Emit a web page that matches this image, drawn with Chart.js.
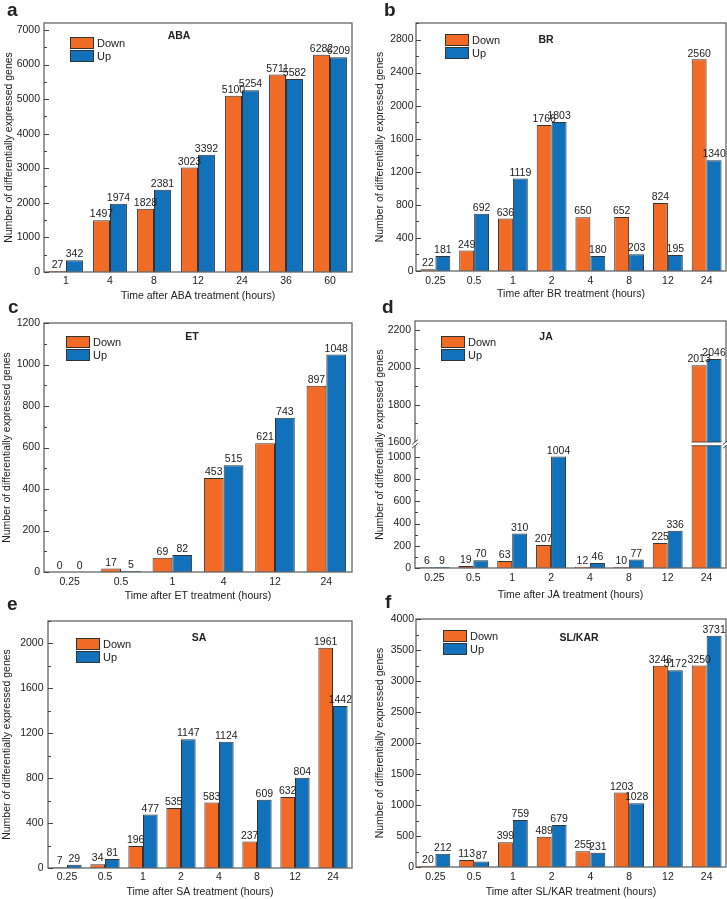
<!DOCTYPE html>
<html>
<head>
<meta charset="utf-8">
<script src="https://cdn.jsdelivr.net/npm/chart.js@4.4.0/dist/chart.umd.min.js"></script>
<style>
  html, body { margin: 0; padding: 0; background: #fff; }
  body { position: relative; width: 727px; height: 899px; overflow: hidden; }
  canvas { position: absolute; }
</style>
</head>
<body>
<canvas id="pa"></canvas>
<canvas id="pb"></canvas>
<canvas id="pc"></canvas>
<canvas id="pd"></canvas>
<canvas id="pe"></canvas>
<canvas id="pf"></canvas>
<script>
// ---- data ----
const abaHours = ['1', '4', '8', '12', '24', '36', '60'];
const abaDown = [27, 1497, 1828, 3023, 5100, 5711, 6282];
const abaUp = [342, 1974, 2381, 3392, 5254, 5582, 6209];
const abaTicks = [0, 1000, 2000, 3000, 4000, 5000, 6000, 7000];

const brHours = ['0.25', '0.5', '1', '2', '4', '8', '12', '24'];
const brDown = [22, 249, 636, 1766, 650, 652, 824, 2560];
const brUp = [181, 692, 1119, 1803, 180, 203, 195, 1340];
const brTicks = [0, 400, 800, 1200, 1600, 2000, 2400, 2800];

const etHours = ['0.25', '0.5', '1', '4', '12', '24'];
const etDown = [0, 17, 69, 453, 621, 897];
const etUp = [0, 5, 82, 515, 743, 1048];
const etTicks = [0, 200, 400, 600, 800, 1000, 1200];

const jaHours = ['0.25', '0.5', '1', '2', '4', '8', '12', '24'];
const jaDown = [6, 19, 63, 207, 12, 10, 225, 2013];
const jaUp = [9, 70, 310, 1004, 46, 77, 336, 2046];
// JA axis is broken between 1100 and 1600
const jaTicks = [0, 200, 400, 600, 800, 1000, 1600, 1800, 2000, 2200];
const jaBreak = { low: 1100, high: 1600, lowFrac: 0.495, highFrac: 0.51 };

const saHours = ['0.25', '0.5', '1', '2', '4', '8', '12', '24'];
const saDown = [7, 34, 196, 535, 583, 237, 632, 1961];
const saUp = [29, 81, 477, 1147, 1124, 609, 804, 1442];
const saTicks = [0, 400, 800, 1200, 1600, 2000];

const slHours = ['0.25', '0.5', '1', '2', '4', '8', '12', '24'];
const slDown = [20, 113, 399, 489, 255, 1203, 3246, 3250];
const slUp = [212, 87, 759, 679, 231, 1028, 3172, 3731];
const slTicks = [0, 500, 1000, 1500, 2000, 2500, 3000, 3500, 4000];

const ORANGE = '#F26B26';
const BLUE = '#1172BB';
const EDGE = '#333';
const FRAME = '#666';
const TEXT = '#222';
const FONT = "'Liberation Sans', Arial, sans-serif";

Chart.defaults.font.family = FONT;
Chart.defaults.color = TEXT;

// linear scale with a gap, used for panel d
class BrokenLinearScale extends Chart.LinearScale {
  toDecimal(v) {
    const b = jaBreak;
    if (v <= b.low) return v / b.low * b.lowFrac;
    if (v >= b.high) return b.highFrac + (v - b.high) / (this.max - b.high) * (1 - b.highFrac);
    return b.lowFrac + (v - b.low) / (b.high - b.low) * (b.highFrac - b.lowFrac);
  }
  getPixelForValue(v) {
    if (v === null || v === undefined) return NaN;
    return this.getPixelForDecimal(this.toDecimal(v));
  }
  getValueForPixel(p) {
    const d = this.getDecimalForPixel(p);
    const b = jaBreak;
    if (d <= b.lowFrac) return d / b.lowFrac * b.low;
    if (d >= b.highFrac) return b.high + (d - b.highFrac) / (1 - b.highFrac) * (this.max - b.high);
    return b.low + (d - b.lowFrac) / (b.highFrac - b.lowFrac) * (b.high - b.low);
  }
}
BrokenLinearScale.id = 'brokenLinear';
BrokenLinearScale.defaults = Chart.LinearScale.defaults;
Chart.register(BrokenLinearScale);

// major ticks plus a minor tick halfway between evenly spaced majors
function withMinor(majors, max) {
  const step = majors[1] - majors[0];
  const out = [];
  majors.forEach((v, i) => {
    out.push(v);
    const next = i + 1 < majors.length ? majors[i + 1] : v + step;
    if (next - v === step && v + step / 2 <= max) out.push(v + step / 2);
  });
  return out;
}

// frame, inward ticks, value labels, legend, panel title and letter
const panelDecor = {
  id: 'panelDecor',
  afterDatasetsDraw(chart, args, opts) {
    const ctx = chart.ctx;
    const area = chart.chartArea;
    const ys = chart.scales.y;
    ctx.save();

    ctx.strokeStyle = FRAME;
    ctx.lineWidth = 1.3;
    ctx.strokeRect(area.left, area.top, area.right - area.left, area.bottom - area.top);

    ctx.strokeStyle = '#444';
    ctx.lineWidth = 1;
    ys.ticks.forEach(t => {
      const py = Math.round(ys.getPixelForValue(t.value)) + 0.5;
      const len = opts.majors.includes(t.value) ? 5 : 3;
      ctx.beginPath();
      ctx.moveTo(area.left, py);
      ctx.lineTo(area.left + len, py);
      ctx.stroke();
    });

    if (opts.broken) {
      const yLo = ys.getPixelForValue(jaBreak.low);
      const yHi = ys.getPixelForValue(jaBreak.high);
      ctx.fillStyle = '#fff';
      ctx.fillRect(area.left - 2, yHi, area.right - area.left + 4, yLo - yHi);
      ctx.strokeStyle = EDGE;
      ctx.lineWidth = 0.8;
      chart.data.datasets.forEach((ds, i) => {
        chart.getDatasetMeta(i).data.forEach((bar, j) => {
          if (ds.data[j] > jaBreak.high) {
            ctx.beginPath();
            ctx.moveTo(bar.x - bar.width / 2, yHi);
            ctx.lineTo(bar.x + bar.width / 2, yHi);
            ctx.moveTo(bar.x - bar.width / 2, yLo);
            ctx.lineTo(bar.x + bar.width / 2, yLo);
            ctx.stroke();
          }
        });
      });
      ctx.strokeStyle = '#444';
      ctx.lineWidth = 1;
      [area.left, area.right].forEach(x => {
        [yHi, yLo].forEach(y => {
          ctx.beginPath();
          ctx.moveTo(x - 3, y + 2.5);
          ctx.lineTo(x + 3, y - 2.5);
          ctx.stroke();
        });
      });
    }

    ctx.fillStyle = TEXT;
    ctx.font = '10.5px ' + FONT;
    ctx.textAlign = 'center';
    ctx.textBaseline = 'bottom';
    chart.data.datasets.forEach((ds, i) => {
      chart.getDatasetMeta(i).data.forEach((bar, j) => {
        ctx.fillText(String(ds.data[j]), bar.x, bar.y - 0.5);
      });
    });

    // legend
    ctx.font = '11px ' + FONT;
    ctx.textAlign = 'left';
    ctx.textBaseline = 'middle';
    chart.data.datasets.forEach((ds, i) => {
      const lx = area.left + opts.legendAt[0];
      const ly = area.top + opts.legendAt[1] + i * 13;
      ctx.fillStyle = ds.backgroundColor;
      ctx.fillRect(lx, ly, 24, 12);
      ctx.strokeStyle = EDGE;
      ctx.lineWidth = 1;
      ctx.strokeRect(lx + 0.5, ly + 0.5, 23, 11);
      ctx.fillStyle = TEXT;
      ctx.fillText(ds.label, lx + 27, ly + 6.5);
    });

    // hormone name
    ctx.font = 'bold 10.5px ' + FONT;
    ctx.textAlign = 'center';
    ctx.fillText(opts.name, area.left + opts.nameAt[0], area.top + opts.nameAt[1]);

    // panel letter
    ctx.font = 'bold 19px ' + FONT;
    ctx.textAlign = 'left';
    ctx.textBaseline = 'alphabetic';
    ctx.fillText(opts.letter, opts.letterAt[0], opts.letterAt[1]);

    ctx.restore();
  }
};

function makePanel(id, cfg) {
  const box = cfg.box, plot = cfg.plot;
  const cv = document.getElementById(id);
  cv.width = box.w;
  cv.height = box.h;
  cv.style.left = box.x + 'px';
  cv.style.top = box.y + 'px';
  const yAxisWidth = plot.l - box.x;
  const xAxisHeight = box.y + box.h - plot.b;
  const tickValues = withMinor(cfg.ticks, cfg.max);

  new Chart(cv.getContext('2d'), {
    type: 'bar',
    data: {
      labels: cfg.labels,
      datasets: [
        { label: 'Down', data: cfg.down, backgroundColor: ORANGE, borderColor: EDGE, borderWidth: 1,
          categoryPercentage: 0.77, barPercentage: 1 },
        { label: 'Up', data: cfg.up, backgroundColor: BLUE, borderColor: EDGE, borderWidth: 1,
          categoryPercentage: 0.77, barPercentage: 1 }
      ]
    },
    options: {
      responsive: false,
      animation: false,
      devicePixelRatio: 1,
      layout: { padding: { left: 0, bottom: 0, top: plot.t - box.y, right: box.x + box.w - plot.r } },
      plugins: {
        legend: { display: false },
        tooltip: { enabled: false },
        panelDecor: {
          majors: cfg.ticks,
          broken: !!cfg.broken,
          name: cfg.name,
          nameAt: cfg.nameAt,
          legendAt: cfg.legendAt,
          letter: cfg.letter,
          letterAt: [cfg.letterAt[0] - box.x, cfg.letterAt[1] - box.y]
        }
      },
      scales: {
        x: {
          afterFit: s => { s.height = xAxisHeight; },
          grid: { display: false, drawTicks: false },
          border: { display: false },
          ticks: { padding: cfg.xPad, font: { size: 10.5 }, color: TEXT, maxRotation: 0, autoSkip: false },
          title: { display: true, text: cfg.xTitle, font: { size: 10.5 }, color: TEXT,
                   padding: { top: 0, bottom: box.y + box.h - cfg.xTitleY - 6.3 } }
        },
        y: {
          type: cfg.broken ? 'brokenLinear' : 'linear',
          min: 0,
          max: cfg.max,
          afterFit: s => { s.width = yAxisWidth; },
          afterBuildTicks: s => { s.ticks = tickValues.map(v => ({ value: v })); },
          grid: { display: false, drawTicks: false },
          border: { display: false },
          ticks: {
            autoSkip: false,
            padding: cfg.yPad,
            font: { size: 10.5 },
            color: TEXT,
            callback: v => (cfg.ticks.includes(v) ? String(v) : '')
          },
          title: { display: true, text: 'Number of differentially expressed genes', font: { size: 10.5 }, color: TEXT,
                   padding: { top: cfg.yTitleX - box.x - 6.3, bottom: 0 } }
        }
      }
    },
    plugins: [panelDecor]
  });
}

makePanel('pa', {
  labels: abaHours, down: abaDown, up: abaUp, ticks: abaTicks, max: 7200,
  box: { x: 0, y: 0, w: 364, h: 303 }, plot: { l: 44, t: 23, r: 352, b: 272 },
  yTitleX: 9, xTitleY: 296, xPad: 3, yPad: 4,
  xTitle: 'Time after ABA treatment (hours)', name: 'ABA', nameAt: [135, 13], legendAt: [26, 14],
  letter: 'a', letterAt: [7, 16]
});
makePanel('pb', {
  labels: brHours, down: brDown, up: brUp, ticks: brTicks, max: 3000,
  box: { x: 364, y: 0, w: 363, h: 303 }, plot: { l: 416, t: 23, r: 726, b: 271 },
  yTitleX: 380.5, xTitleY: 294.5, xPad: 4, yPad: 2.5,
  xTitle: 'Time after BR treatment (hours)', name: 'BR', nameAt: [130, 17], legendAt: [29, 11],
  letter: 'b', letterAt: [384, 16]
});
makePanel('pc', {
  labels: etHours, down: etDown, up: etUp, ticks: etTicks, max: 1200,
  box: { x: 0, y: 290, w: 364, h: 313 }, plot: { l: 44, t: 323, r: 352, b: 572 },
  yTitleX: 7.5, xTitleY: 596.5, xPad: 4, yPad: 4,
  xTitle: 'Time after ET treatment (hours)', name: 'ET', nameAt: [148, 14], legendAt: [22, 13],
  letter: 'c', letterAt: [8, 313]
});
makePanel('pd', {
  labels: jaHours, down: jaDown, up: jaUp, ticks: jaTicks, max: 2250, broken: true,
  box: { x: 364, y: 290, w: 363, h: 313 }, plot: { l: 415, t: 321, r: 726, b: 568 },
  yTitleX: 380.5, xTitleY: 595, xPad: 4, yPad: 4,
  xTitle: 'Time after JA treatment (hours)', name: 'JA', nameAt: [131, 16], legendAt: [26, 15],
  letter: 'd', letterAt: [382, 313]
});
makePanel('pe', {
  labels: saHours, down: saDown, up: saUp, ticks: saTicks, max: 2200,
  box: { x: 0, y: 588, w: 364, h: 311 }, plot: { l: 48, t: 621, r: 352, b: 868 },
  yTitleX: 7.5, xTitleY: 892, xPad: 3, yPad: 4.5,
  xTitle: 'Time after SA treatment (hours)', name: 'SA', nameAt: [151, 17], legendAt: [28, 17],
  letter: 'e', letterAt: [7, 610]
});
makePanel('pf', {
  labels: slHours, down: slDown, up: slUp, ticks: slTicks, max: 4000,
  box: { x: 364, y: 588, w: 363, h: 311 }, plot: { l: 416, t: 619, r: 726, b: 867 },
  yTitleX: 380.5, xTitleY: 892, xPad: 4, yPad: 2,
  xTitle: 'Time after SL/KAR treatment (hours)', name: 'SL/KAR', nameAt: [163, 19], legendAt: [27, 11],
  letter: 'f', letterAt: [385, 608]
});
</script>
</body>
</html>
